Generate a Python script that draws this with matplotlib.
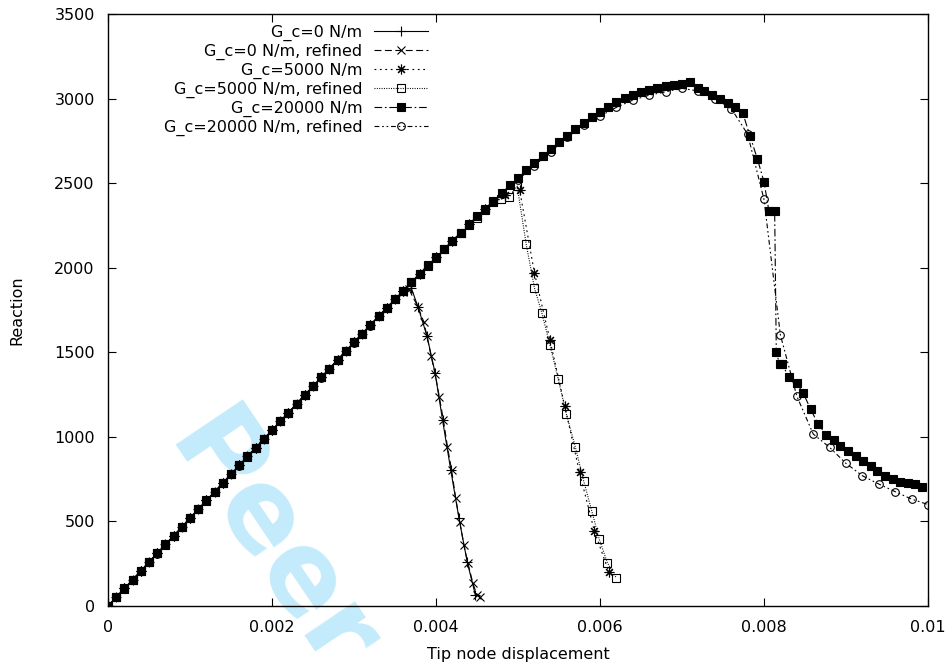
#!/usr/bin/env python3
"""Reaction vs tip node displacement for three G_c values (coarse and refined mesh)."""
import matplotlib
matplotlib.use("Agg")
import matplotlib.pyplot as plt
import numpy as np

plt.rcParams["font.family"] = ["DejaVu Sans"]
plt.rcParams["lines.scale_dashes"] = False

# displacements are given in units of 1e-5 m
GC0_X = [0, 10, 20, 30, 40, 50, 60, 70, 80, 90,
         100, 110, 120, 130, 140, 150, 160, 170, 180, 190,
         200, 210, 220, 230, 240, 250, 260, 270, 280, 290,
         300, 310, 320, 330, 340, 350, 360, 370,
         378, 389, 399, 408, 418, 428, 438, 448]
GC0_Y = [0, 52, 104, 156, 208, 260, 312, 364, 416, 468,
         520, 572, 624, 676, 728, 780, 832, 884, 936, 988,
         1040, 1092, 1144, 1196, 1248, 1300, 1352, 1404, 1456, 1508,
         1560, 1611, 1662, 1713, 1764, 1815, 1862, 1878,
         1769, 1596, 1376, 1099, 804, 519, 262, 65]

GC0R_X = [0, 10, 20, 30, 40, 50, 60, 70, 80, 90,
          100, 110, 120, 130, 140, 150, 160, 170, 180, 190,
          200, 210, 220, 230, 240, 250, 260, 270, 280, 290,
          300, 310, 320, 330, 340, 350, 360,
          367, 378, 385, 389, 394, 399, 404, 409, 414, 419,
          424, 429, 434, 439, 445, 450, 454]
GC0R_Y = [0, 51, 103, 155, 207, 259, 311, 363, 415, 467,
          519, 571, 623, 675, 727, 779, 831, 883, 935, 987,
          1039, 1091, 1143, 1195, 1247, 1299, 1351, 1403, 1455, 1507,
          1559, 1610, 1661, 1712, 1763, 1813, 1858,
          1872, 1769, 1681, 1596, 1478, 1370, 1238, 1099, 941, 804,
          637, 499, 360, 252, 134, 65, 56]

GC5K_X = [0, 20, 40, 60, 80, 100, 120, 140, 160, 180,
          200, 220, 240, 260, 280, 300, 320, 340, 360, 380,
          400, 420, 440, 460, 484, 502, 520, 539, 557, 575, 593, 611]
GC5K_Y = [0, 104, 208, 312, 416, 520, 624, 728, 832, 936,
          1040, 1144, 1248, 1352, 1456, 1560, 1662, 1764, 1865, 1965,
          2063, 2160, 2256, 2350, 2429, 2459, 1970, 1572, 1182, 790, 445, 199]

GC5KR_X = [0, 10, 20, 30, 40, 50, 60, 70, 80, 90,
           100, 110, 120, 130, 140, 150, 160, 170, 180, 190,
           200, 210, 220, 230, 240, 250, 260, 270, 280, 290,
           300, 310, 320, 330, 340, 350, 360, 370, 380, 390,
           400, 410, 420, 430, 440, 450, 460, 470, 479, 489, 499,
           510, 520, 529, 539, 549, 559, 570, 580, 590, 599, 609, 620]
GC5KR_Y = [0, 51, 103, 155, 207, 259, 311, 363, 415, 467,
           519, 571, 623, 675, 727, 779, 831, 883, 935, 987,
           1039, 1091, 1143, 1195, 1247, 1299, 1351, 1403, 1455, 1507,
           1559, 1610, 1661, 1712, 1763, 1813, 1863, 1913, 1962, 2011,
           2060, 2108, 2156, 2203, 2250, 2296, 2342, 2390, 2405, 2419, 2482,
           2139, 1881, 1734, 1543, 1342, 1135, 938, 741, 561, 396, 256, 164]

GC20K_X = [0, 10, 20, 30, 40, 50, 60, 70, 80, 90,
           100, 110, 120, 130, 140, 150, 160, 170, 180, 190,
           200, 210, 220, 230, 240, 250, 260, 270, 280, 290,
           300, 310, 320, 330, 340, 350, 360, 370, 380, 390,
           400, 410, 420, 430, 440, 450, 460, 470, 480, 490,
           500, 510, 520, 530, 540, 550, 560, 570, 580, 590,
           600, 610, 620, 630, 640, 650, 660, 670, 680, 690,
           700, 710,
           719, 727, 736, 746, 756, 765, 774, 783, 792, 800,
           806, 813, 815, 819, 822, 831, 840, 848, 857, 866,
           876, 885, 893, 902, 912, 921, 930, 938, 948, 957,
           966, 975, 984, 993]
GC20K_Y = [0, 52, 104, 156, 208, 260, 312, 364, 416, 468,
           520, 572, 624, 676, 728, 780, 832, 884, 936, 988,
           1040, 1092, 1144, 1196, 1248, 1300, 1352, 1404, 1456, 1508,
           1560, 1611, 1662, 1713, 1764, 1815, 1865, 1915, 1965, 2014,
           2063, 2112, 2160, 2208, 2256, 2303, 2350, 2396, 2442, 2487,
           2531, 2575, 2618, 2660, 2701, 2741, 2780, 2818, 2855, 2890,
           2923, 2953, 2980, 3004, 3024, 3040, 3053, 3064, 3073, 3081,
           3089, 3098,
           3065, 3046, 3020, 2995, 2971, 2951, 2916, 2778, 2642, 2508,
           2336, 2336, 1499, 1432, 1428, 1351, 1316, 1257, 1162, 1076,
           1011, 981, 948, 916, 888, 859, 829, 800, 770, 751,
           735, 725, 719, 705]

GC20KR_X = [0, 20, 40, 60, 80, 100, 120, 140, 160, 180,
            200, 220, 240, 260, 280, 300, 320, 340, 360, 380,
            400, 420, 440, 460, 480, 500, 520, 540, 560, 580,
            600, 620, 640, 660, 680, 700, 720, 740, 760, 780,
            800, 820, 840, 860, 880, 900, 920, 940, 960, 980, 1000]
GC20KR_Y = [0, 104, 206, 310, 414, 518, 622, 726, 830, 934,
            1038, 1142, 1246, 1349, 1453, 1556, 1658, 1760, 1861, 1960,
            2058, 2155, 2250, 2343, 2433, 2520, 2604, 2684, 2770, 2843,
            2896, 2948, 2991, 3020, 3040, 3060, 3045, 3000, 2941, 2790,
            2404, 1602, 1241, 1017, 938, 843, 770, 721, 676, 632, 600]

LABELS = ["G_c=0 N/m", "G_c=0 N/m, refined", "G_c=5000 N/m",
          "G_c=5000 N/m, refined", "G_c=20000 N/m", "G_c=20000 N/m, refined"]

XTICKS = [0, 0.002, 0.004, 0.006, 0.008, 0.01]
XTICK_LABELS = ["0", "0.002", "0.004", "0.006", "0.008", "0.01"]
YTICKS = [0, 500, 1000, 1500, 2000, 2500, 3000, 3500]


def main() -> None:
    W, H = 948, 664
    fs = 11.5
    fig = plt.figure(figsize=(W / 100, H / 100), dpi=100)
    ax = fig.add_axes([108 / W, 1 - 606 / H, 820 / W, 592 / H])

    series = [
        (GC0_X, GC0_Y, dict(ls="-", marker="+", ms=7)),
        (GC0R_X, GC0R_Y, dict(ls=(0, (5, 2.5)), marker="x", ms=5.5)),
        (GC5K_X, GC5K_Y, dict(ls=(0, (1.3, 2.6)), marker=(8, 2, 0), ms=7)),
        (GC5KR_X, GC5KR_Y, dict(ls=(0, (0.7, 1.0)), marker="s", ms=5.8,
                                mfc="none")),
        (GC20K_X, GC20K_Y, dict(ls=(0, (5.5, 2, 1.2, 2)), marker="s", ms=6)),
        (GC20KR_X, GC20KR_Y, dict(ls=(0, (3.5, 2, 1.2, 2, 1.2, 2)), marker="o",
                                  ms=5.5, mfc="none")),
    ]
    for (xs, ys, style), label in zip(series, LABELS):
        x = np.array(xs) * 1e-5
        ax.plot(x, ys, color="black", lw=0.8, mew=0.8, label=label, **style)

    ax.set_xlim(0, 0.01)
    ax.set_ylim(0, 3500)
    ax.set_xticks(XTICKS)
    ax.set_xticklabels(XTICK_LABELS)
    ax.set_yticks(YTICKS)
    ax.tick_params(direction="in", length=6, width=0.8, top=True, right=True,
                   labelsize=fs)
    ax.tick_params(axis="x", pad=10)
    ax.tick_params(axis="y", pad=9.5)
    for sp in ax.spines.values():
        sp.set_linewidth(1.0)

    ax.set_xlabel("Tip node displacement", fontsize=fs)
    ax.set_ylabel("Reaction", fontsize=fs)
    ax.xaxis.set_label_coords(0.5, -0.07)
    ax.yaxis.set_label_coords(-0.102, 0.5)

    ax.legend(loc="upper right", bbox_to_anchor=(428 / W, 1 - 25 / H),
              bbox_transform=fig.transFigure, markerfirst=False,
              frameon=False, handlelength=3.4, handletextpad=0.7,
              labelspacing=0.17, borderpad=0, borderaxespad=0, fontsize=fs)

    # watermark of the review copy
    ax.text(164 / W, 1 - 444 / H, "Peer", transform=fig.transFigure,
            fontsize=80, fontweight="bold", color="#c4ebfb", rotation=-56,
            rotation_mode="anchor", ha="left", va="baseline", zorder=0.5,
            clip_on=False)

    fig.savefig("out.png", dpi=100)
    plt.close(fig)


if __name__ == "__main__":
    main()
